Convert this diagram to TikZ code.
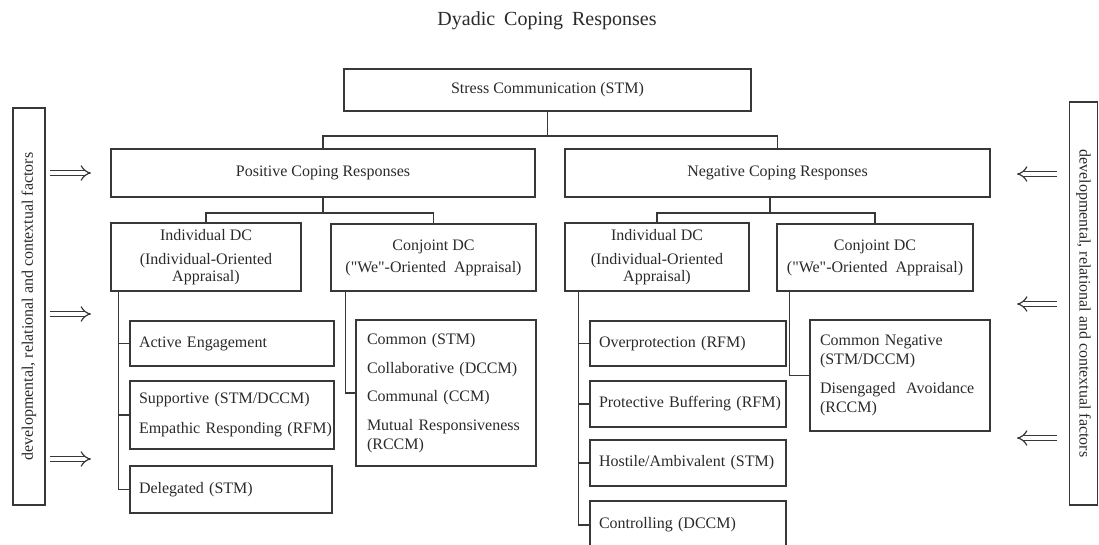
\documentclass[tikz,border=0pt]{standalone}
\usepackage{fontspec}
\setmainfont{Liberation Serif}
% same face without the TeX input mapping, so that " stays a straight quote
\newfontfamily\plainface{Liberation Serif}
\usetikzlibrary{arrows.meta,calc}
\definecolor{ink}{HTML}{2A2A2A}
\definecolor{rule}{HTML}{383838}
\newcommand{\sq}{{\plainface"}}
\begin{document}
\begin{tikzpicture}[x=1pt,y=-1pt,
  every node/.style={font=\fontsize{16}{19}\selectfont, text=ink},
  box/.style={draw=rule, line width=1.5pt, rectangle, inner sep=0pt, align=center},
  lbox/.style={box, align=left, inner xsep=9pt},
  link/.style={draw=rule, line width=1.5pt},
  factor/.style={draw=rule, line width=1.2pt, double=white, double distance=4.2pt, -{Implies[length=4.5pt]}},
  sidebar/.style={box, inner sep=0pt}]
\clip (0,0) rectangle (1099,544);

% heading
\node (title) at (547,21) {\fontsize{20}{24}\selectfont Dyadic\hspace{4pt} Coping\hspace{4pt} Responses};

% top levels
\node[box, minimum width=407, minimum height=42] (stm) at (547.5,90) {Stress Communication (STM)};
\node[box, minimum width=424, minimum height=48] (pos) at (323,173) {Positive Coping Responses};
\node[box, minimum width=425, minimum height=48] (neg) at (777.5,173) {Negative Coping Responses};

% appraisal levels
\node[box, minimum width=190, minimum height=68] (pind) at (206,257)
  {Individual DC\\[5pt](Individual-Oriented\\[-2pt]Appraisal)};
\node[box, minimum width=205, minimum height=67] (pcon) at (433.5,257.5)
  {Conjoint DC\\[3pt](\sq We\sq-Oriented\ \ Appraisal)};
\node[box, minimum width=184, minimum height=68] (nind) at (657,257)
  {Individual DC\\[5pt](Individual-Oriented\\[-2pt]Appraisal)};
\node[box, minimum width=196, minimum height=67] (ncon) at (875,257.5)
  {Conjoint DC\\[3pt](\sq We\sq-Oriented\ \ Appraisal)};

% positive responses
\node[lbox, minimum width=204, minimum height=45, text width=186] (ae) at (232,343.5)
  {\mbox{Active Engagement}};
\node[lbox, minimum width=204, minimum height=68, text width=186] (sup) at (232,415)
  {\mbox{Supportive (STM/DCCM)}\\[11pt]\mbox{Empathic Responding (RFM)}};
\node[lbox, minimum width=202, minimum height=47, text width=184] (del) at (231,489.5)
  {\mbox{Delegated (STM)}};
\node[lbox, inner xsep=11pt, minimum width=180, minimum height=146, text width=158] (com) at (446,393)
  {\mbox{Common (STM)}\\[10pt]\mbox{Collaborative (DCCM)}\\[9pt]\mbox{Communal (CCM)}\\[10pt]\mbox{Mutual Responsiveness}\\\mbox{(RCCM)}};

% negative responses
\node[lbox, minimum width=196, minimum height=45, text width=178] (over) at (688,343.5)
  {\mbox{Overprotection (RFM)}};
\node[lbox, minimum width=196, minimum height=46, text width=178] (prot) at (688,404)
  {\mbox{Protective Buffering (RFM)}};
\node[lbox, minimum width=196, minimum height=46, text width=178] (host) at (688,463)
  {\mbox{Hostile/Ambivalent (STM)}};
\node[lbox, minimum width=196, minimum height=48, text width=178] (ctrl) at (688,525)
  {\mbox{Controlling (DCCM)}};
\node[lbox, inner xsep=10pt, minimum width=180, minimum height=111, text width=160] (cneg) at (900,375.5)
  {\mbox{Common Negative}\\\mbox{(STM/DCCM)}\\[10pt]\mbox{Disengaged\ \ Avoidance}\\\mbox{(RCCM)}};

% side factors
\node[sidebar, rotate=90, minimum width=397, minimum height=32] (lbar) at (29,306.5)
  {developmental, relational and contextual factors};
\node[sidebar, rotate=-90, minimum width=403, minimum height=28] (rbar) at (1083.5,303.5)
  {developmental, relational and contextual factors};

% tree connectors
\draw[link] (stm.south) -- ++(0,24) -| (pos.north);
\draw[link] (stm.south) -- ++(0,24) -| (neg.north);
\draw[link] (pos.south) -- ++(0,15) -| (pind.north);
\draw[link] (pos.south) -- ++(0,15) -| (pcon.north);
\coordinate (nsplit) at ($(neg.south)+(-7.5,0)$);
\draw[link] (nsplit) -- ++(0,15) -| (nind.north);
\draw[link] (nsplit) -- ++(0,15) -| (ncon.north);

\coordinate (pil) at ($(pind.south west)+(8,0)$);
\draw[link] (pil) |- (del.west);
\draw[link] (ae.west) -- (ae.west -| pil);
\draw[link] (sup.west) -- (sup.west -| pil);

\coordinate (pcl) at ($(pcon.south west)+(15,0)$);
\draw[link] (pcl) |- (com.west);

\coordinate (nil) at ($(nind.south west)+(14,0)$);
\draw[link] (nil) |- (ctrl.west);
\draw[link] (over.west) -- (over.west -| nil);
\draw[link] (prot.west) -- (prot.west -| nil);
\draw[link] (host.west) -- (host.west -| nil);

\coordinate (ncl) at ($(ncon.south west)+(13,0)$);
\draw[link] (ncl) |- (cneg.west);

% influence arrows
\coordinate (la1) at (50,173);  \coordinate (lb1) at (91,173);
\coordinate (la2) at (50,314);  \coordinate (lb2) at (91,314);
\coordinate (la3) at (50,459);  \coordinate (lb3) at (91,459);
\coordinate (ra1) at (1057,174); \coordinate (rb1) at (1017,174);
\coordinate (ra2) at (1057,304); \coordinate (rb2) at (1017,304);
\coordinate (ra3) at (1057,438); \coordinate (rb3) at (1017,438);
\foreach \i in {1,2,3} {
  \draw[factor] (la\i) -- (lb\i);
  \draw[factor] (ra\i) -- (rb\i);
}
\end{tikzpicture}
\end{document}
